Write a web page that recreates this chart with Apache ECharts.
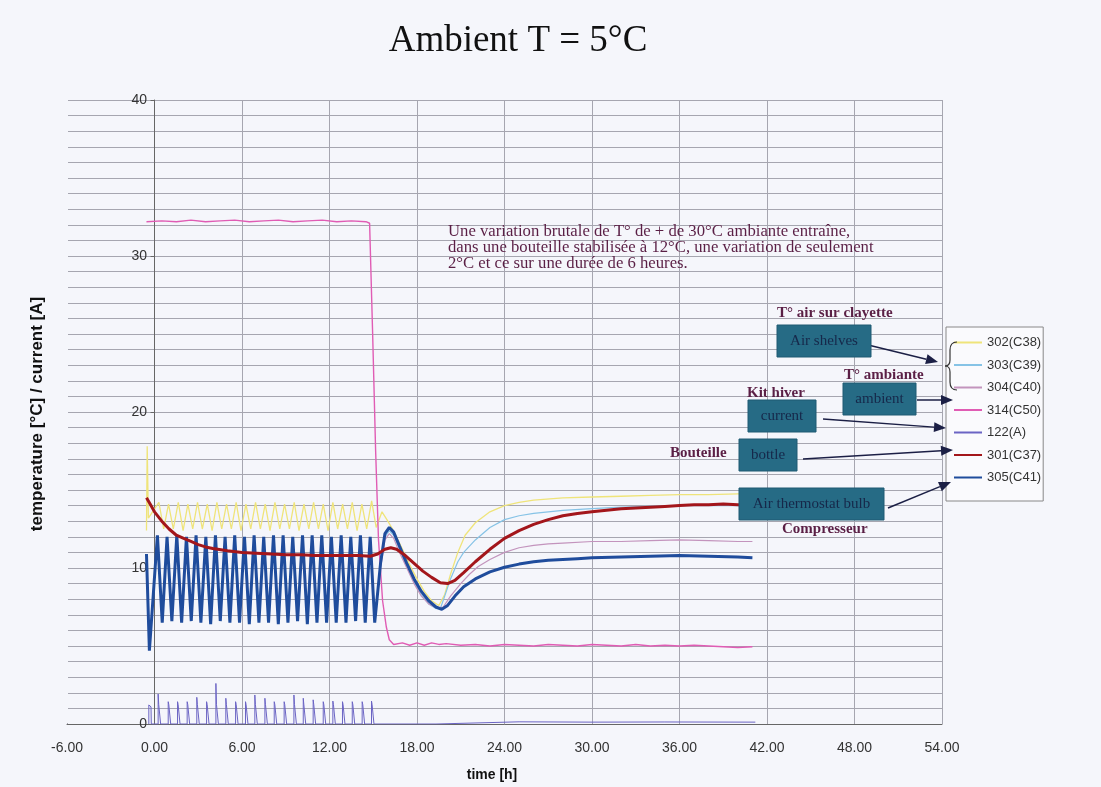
<!DOCTYPE html>
<html><head><meta charset="utf-8">
<script src="https://cdn.jsdelivr.net/npm/echarts/dist/echarts.min.js"></script>
<style>html,body{margin:0;padding:0;background:#f5f6fb}#c{width:1101px;height:787px}</style>
</head><body><div id="c"></div><script>
// ---- data (time [h], value) ----
const seriesNames = ['302(C38)','303(C39)','304(C40)','314(C50)','122(A)','301(C37)','305(C41)'];
const xTicks = [-6,0,6,12,18,24,30,36,42,48,54];
const yTicks = [0,10,20,30,40];

const s302 = [[-0.55,12.4],[-0.5,17.8],[-0.42,13.2],[0.3,14.2],[0.63,12.5],[0.96,14.1],[1.29,12.5],[1.63,14.2],[1.96,12.4],[2.29,14.1],[2.62,12.5],[2.95,14.2],[3.28,12.5],[3.62,14.1],[3.95,12.4],[4.28,14.2],[4.61,12.5],[4.94,14.1],[5.27,12.5],[5.60,14.2],[5.93,12.4],[6.27,14.1],[6.60,12.5],[6.93,14.2],[7.26,12.5],[7.59,14.1],[7.92,12.4],[8.26,14.2],[8.59,12.5],[8.92,14.1],[9.25,12.5],[9.58,14.2],[9.91,12.4],[10.25,14.1],[10.58,12.5],[10.91,14.2],[11.24,12.5],[11.57,14.1],[11.90,12.4],[12.23,14.2],[12.56,12.5],[12.90,14.1],[13.23,12.5],[13.56,14.2],[13.89,12.4],[14.22,14.1],[14.55,12.5],[14.89,14.3],[15.2,12.6],[15.6,13.6],[16.0,13.0],[16.5,12.2],[17,11.2],[17.5,10.2],[18,9.3],[18.5,8.5],[19,7.9],[19.5,7.6],[19.9,8.3],[20.3,9.6],[20.8,11.0],[21.3,12.1],[22,12.9],[23,13.6],[24,14.0],[25,14.2],[26,14.35],[28,14.5],[30,14.55],[32,14.6],[34,14.65],[36,14.7],[38,14.7],[40,14.75],[41,14.75]];

const s303 = [[15.1,6.6],[15.5,10.2],[15.8,12.0],[16.1,12.4],[16.4,12.1],[16.8,11.2],[17.3,10.1],[17.8,9.1],[18.3,8.3],[18.8,7.7],[19.3,7.4],[19.6,7.4],[19.9,8.2],[20.3,9.3],[20.8,10.4],[21.2,11.0],[22,11.8],[23,12.6],[24,13.1],[25,13.35],[26,13.5],[27,13.6],[28,13.7],[30,13.8],[32,13.9],[34,13.95],[36,14.0],[38,14.0],[40,14.0],[41,14.0]];

const s304 = [[15.1,6.6],[15.5,10.0],[15.8,11.8],[16.1,12.2],[16.4,11.9],[16.8,11.0],[17.3,10.0],[17.8,9.0],[18.3,8.2],[18.8,7.7],[19.3,7.45],[19.8,7.5],[20.3,8.2],[21,9.0],[21.6,9.6],[22.2,10.1],[23,10.55],[24,11.0],[25,11.3],[26,11.45],[27,11.55],[28,11.6],[30,11.7],[32,11.7],[34,11.75],[36,11.8],[38,11.75],[40,11.7],[41,11.7]];

const s314 = [[-0.55,32.2],[0.5,32.25],[1.5,32.2],[2.5,32.3],[3.5,32.2],[4.5,32.25],[5.5,32.3],[6.5,32.2],[7.5,32.25],[8.5,32.3],[9.5,32.2],[10.5,32.25],[11.5,32.3],[12.5,32.2],[13.5,32.25],[14.5,32.2],[14.75,32.1],[14.95,25.3],[15.16,17.6],[15.36,11.8],[15.64,7.9],[15.9,6.2],[16.1,5.4],[16.4,5.1],[17,5.2],[17.5,5.05],[18,5.2],[18.5,5.05],[19,5.2],[19.5,5.1],[20,5.15],[21,5.05],[22,5.1],[23,5.0],[24,5.1],[25,5.05],[26,5.0],[27,5.1],[28,5.05],[29,5.0],[30,5.1],[31,5.05],[32,5.0],[33,5.1],[34,5.0],[35,5.05],[36,5.0],[37,5.05],[38,5.0],[39,4.95],[40,4.9],[41,4.95]];

const s122 = [[-0.39,0],[-0.39,1.22],[-0.35,1.15],[-0.24,1.1],[-0.22,0],
[0.25,0],[0.25,1.92],[0.29,1.25],[0.40,1.2],[0.42,0],
[0.94,0],[0.94,1.43],[0.98,1.25],[1.09,1.2],[1.11,0],
[1.58,0],[1.58,1.43],[1.62,1.25],[1.73,1.2],[1.75,0],
[2.24,0],[2.24,1.43],[2.28,1.25],[2.39,1.2],[2.41,0],
[2.90,0],[2.90,1.71],[2.94,1.25],[3.05,1.2],[3.07,0],
[3.57,0],[3.57,1.43],[3.61,1.25],[3.72,1.2],[3.74,0],
[4.21,0],[4.21,2.6],[4.25,1.25],[4.36,1.2],[4.38,0],
[4.89,0],[4.89,1.65],[4.93,1.25],[5.04,1.2],[5.06,0],
[5.56,0],[5.56,1.43],[5.60,1.25],[5.71,1.2],[5.73,0],
[6.24,0],[6.24,1.43],[6.28,1.25],[6.39,1.2],[6.41,0],
[6.88,0],[6.88,1.86],[6.92,1.25],[7.03,1.2],[7.05,0],
[7.57,0],[7.57,1.65],[7.61,1.25],[7.72,1.2],[7.74,0],
[8.21,0],[8.21,1.43],[8.25,1.25],[8.36,1.2],[8.38,0],
[8.89,0],[8.89,1.43],[8.93,1.25],[9.04,1.2],[9.06,0],
[9.56,0],[9.56,1.86],[9.60,1.25],[9.71,1.2],[9.73,0],
[10.20,0],[10.20,1.65],[10.24,1.25],[10.35,1.2],[10.37,0],
[10.88,0],[10.88,1.55],[10.92,1.25],[11.03,1.2],[11.05,0],
[11.57,0],[11.57,1.43],[11.61,1.25],[11.72,1.2],[11.74,0],
[12.23,0],[12.23,1.47],[12.27,1.25],[12.38,1.2],[12.40,0],
[12.89,0],[12.89,1.43],[12.93,1.25],[13.04,1.2],[13.06,0],
[13.56,0],[13.56,1.43],[13.60,1.25],[13.71,1.2],[13.73,0],
[14.24,0],[14.24,1.43],[14.28,1.25],[14.39,1.2],[14.41,0],
[14.88,0],[14.88,1.47],[14.92,1.25],[15.03,1.2],[15.05,0],
[19.3,0],[19.3,0.12],[25,0.14],[30,0.12],[35,0.13],[41.2,0.12]];

const s301 = [[-0.55,14.5],[-0.3,14.1],[0,13.6],[0.5,13.0],[1,12.5],[1.5,12.1],[2,11.9],[2.5,11.7],[3,11.5],[3.5,11.35],[4,11.25],[5,11.1],[6,11.0],[7,10.95],[8,10.9],[9,10.85],[10,10.85],[11,10.8],[12,10.8],[13,10.8],[14,10.8],[14.8,10.75],[15.3,10.9],[15.8,11.2],[16.2,11.3],[16.6,11.2],[17.2,10.8],[17.8,10.3],[18.4,9.8],[19,9.4],[19.6,9.05],[20.1,9.0],[20.6,9.2],[21.2,9.7],[22,10.4],[23,11.2],[24,11.9],[25,12.4],[26,12.8],[27,13.1],[28,13.35],[29,13.5],[30,13.6],[31,13.7],[32,13.8],[33,13.85],[34,13.9],[35,13.95],[36,14.0],[37,14.05],[38,14.05],[39,14.1],[40,14.05],[41,14.0]];

const s305 = [[-0.55,10.9],[-0.35,4.7],[0.2,12.1],[0.53,6.5],[0.86,12.0],[1.19,6.6],[1.53,12.1],[1.86,6.5],[2.19,12.0],[2.52,6.6],[2.85,12.1],[3.18,6.5],[3.52,12.0],[3.85,6.4],[4.18,12.1],[4.51,6.6],[4.84,12.0],[5.17,6.5],[5.50,12.1],[5.83,6.5],[6.17,12.0],[6.50,6.4],[6.83,12.1],[7.16,6.5],[7.49,12.0],[7.82,6.5],[8.16,12.1],[8.49,6.4],[8.82,12.1],[9.15,6.5],[9.48,12.0],[9.81,6.6],[10.15,12.1],[10.48,6.4],[10.81,12.1],[11.14,6.5],[11.47,12.1],[11.80,6.5],[12.13,12.0],[12.46,6.5],[12.80,12.1],[13.13,6.5],[13.46,12.0],[13.79,6.6],[14.12,12.1],[14.45,6.5],[14.79,12.0],[15.10,6.5],[15.5,10.3],[15.8,12.2],[16.1,12.6],[16.4,12.3],[16.8,11.4],[17.3,10.3],[17.8,9.3],[18.3,8.5],[18.8,7.9],[19.3,7.5],[19.7,7.35],[20.1,7.6],[20.6,8.2],[21.2,8.8],[22,9.3],[23,9.75],[24,10.05],[25,10.25],[26,10.4],[27,10.5],[28,10.55],[29,10.6],[30,10.65],[32,10.7],[34,10.75],[36,10.8],[38,10.75],[40,10.7],[41,10.65]];

// ---- styles ----
const colors = {'302(C38)':'#efe47a','303(C39)':'#86c3e6','304(C40)':'#c394bd','314(C50)':'#e05cb4','122(A)':'#6b64c4','301(C37)':'#a3161b','305(C41)':'#1f4c9c'};
const widths = {'302(C38)':1.3,'303(C39)':1.2,'304(C40)':1.2,'314(C50)':1.4,'122(A)':1,'301(C37)':3,'305(C41)':3};
const dataMap = {'302(C38)':s302,'303(C39)':s303,'304(C40)':s304,'314(C50)':s314,'122(A)':s122,'301(C37)':s301,'305(C41)':s305};
const zMap = {'302(C38)':2,'303(C39)':3,'304(C40)':4,'314(C50)':5,'122(A)':6,'301(C37)':8,'305(C41)':7};

const series = seriesNames.map(n => ({
  name:n, type:'line', data:dataMap[n], showSymbol:false, symbol:'none',
  lineStyle:{color:colors[n], width:widths[n]}, itemStyle:{color:colors[n]},
  z:zMap[n], animation:false
}));

const ink = '#1b1f45';
function arrow(x1,y1,x2,y2){
  const dx=x2-x1, dy=y2-y1, L=Math.hypot(dx,dy), ux=dx/L, uy=dy/L;
  const hl=12, hw=5, bx=x2-ux*hl, by=y2-uy*hl;
  return [
    {type:'line', z:100, shape:{x1:x1,y1:y1,x2:bx,y2:by}, style:{stroke:ink, lineWidth:1.5}},
    {type:'polygon', z:100, shape:{points:[[x2,y2],[bx-uy*hw,by+ux*hw],[bx+uy*hw,by-ux*hw]]}, style:{fill:ink}}
  ];
}
function box(x1,y1,x2,y2,label){
  return [
    {type:'rect', z:100, shape:{x:x1,y:y1,width:x2-x1,height:y2-y1}, style:{fill:'#266b85', stroke:'#1e5a72', lineWidth:1}},
    {type:'text', z:101, x:(x1+x2)/2, y:(y1+y2)/2, style:{text:label, fill:'#16284a', font:'15px "Liberation Serif", serif', textAlign:'center', textVerticalAlign:'middle'}}
  ];
}
const lab = (x,y,t)=>({type:'text', z:101, x:x, y:y, style:{text:t, fill:'#5a1f45', font:'bold 15px "Liberation Serif", serif', textAlign:'left', textVerticalAlign:'middle'}});
const braceStyle = {stroke:'#333', lineWidth:1.2, fill:null};
const brace = [
  {type:'bezierCurve', z:100, shape:{x1:957,y1:342,cpx1:950,cpy1:342,x2:950,y2:350}, style:braceStyle},
  {type:'line', z:100, shape:{x1:950,y1:350,x2:950,y2:360}, style:braceStyle},
  {type:'bezierCurve', z:100, shape:{x1:950,y1:360,cpx1:950,cpy1:366,x2:945,y2:366}, style:braceStyle},
  {type:'bezierCurve', z:100, shape:{x1:945,y1:366,cpx1:950,cpy1:366,x2:950,y2:372}, style:braceStyle},
  {type:'line', z:100, shape:{x1:950,y1:372,x2:950,y2:382}, style:braceStyle},
  {type:'bezierCurve', z:100, shape:{x1:950,y1:382,cpx1:950,cpy1:390,x2:957,y2:390}, style:braceStyle}
];

const graphic = [
  {type:'rect', z:1, shape:{x:66,y:99,width:2,height:624}, style:{fill:'#f5f6fb'}},
  {type:'text', z:101, x:518, y:41, style:{text:'Ambient T = 5°C', fill:'#111', font:'37px "Liberation Serif", serif', textAlign:'center', textVerticalAlign:'middle'}},
  {type:'text', z:101, x:37, y:414, rotation:Math.PI/2, style:{text:'temperature [°C] / current [A]', fill:'#111', font:'bold 17px "Liberation Sans", Arial, sans-serif', textAlign:'center', textVerticalAlign:'middle'}},
  {type:'text', z:101, x:492, y:775, style:{text:'time [h]', fill:'#111', font:'bold 14px "Liberation Sans", Arial, sans-serif', textAlign:'center', textVerticalAlign:'middle'}},
  {type:'text', z:101, x:448, y:224, style:{text:'Une variation brutale de T° de + de 30°C ambiante entraîne,\ndans une bouteille stabilisée à 12°C, une variation de seulement\n2°C et ce sur une durée de 6 heures.', fill:'#5a1f45', font:'16.7px "Liberation Serif", serif', lineHeight:16, textAlign:'left', textVerticalAlign:'top'}},
  lab(777,313,'T° air sur clayette'),
  lab(844,375,'T° ambiante'),
  lab(747,393,'Kit hiver'),
  lab(670,453,'Bouteille'),
  lab(782,529,'Compresseur'),
  ...arrow(860,343,938,362),
  ...arrow(917,400,953,400),
  ...arrow(823,419,946,428),
  ...arrow(803,459,953,450),
  ...arrow(888,508,951,482),
  ...box(777,325,871,357,'Air shelves'),
  ...box(843,383,916,415,'ambient'),
  ...box(748,400,816,432,'current'),
  ...box(739,439,797,471,'bottle'),
  ...box(739,488,884,520,'Air thermostat bulb'),
  ...brace
];

const chart = echarts.init(document.getElementById('c'), null, {renderer:'canvas'});
chart.setOption({
  backgroundColor:'#f5f6fb',
  animation:false,
  grid:{left:67, right:159, top:100, bottom:63, containLabel:false},
  xAxis:{type:'value', min:xTicks[0], max:xTicks[xTicks.length-1], interval:6,
    axisLine:{show:true, lineStyle:{color:'#666'}}, axisTick:{show:false},
    axisLabel:{formatter:v=>v.toFixed(2), fontSize:14, color:'#333', margin:17, fontFamily:'"Liberation Sans", Arial, sans-serif'},
    splitLine:{show:true, lineStyle:{color:'#a6a6b0', width:1}}},
  yAxis:{type:'value', min:yTicks[0], max:yTicks[yTicks.length-1], interval:10,
    axisLine:{show:true, onZero:true, lineStyle:{color:'#666'}}, axisTick:{show:true, length:4, lineStyle:{color:'#666'}},
    axisLabel:{fontSize:14, color:'#333', margin:-80, fontFamily:'"Liberation Sans", Arial, sans-serif'},
    splitLine:{show:true, lineStyle:{color:'#a6a6b0', width:1}},
    minorTick:{show:false, splitNumber:10},
    minorSplitLine:{show:true, lineStyle:{color:'#a6a6b0', width:1}}},
  legend:{data:seriesNames, orient:'vertical', left:946, top:327, padding:[9,2,17,7], itemGap:9.5, itemWidth:28, itemHeight:14,
    itemStyle:{opacity:0},
    backgroundColor:'#fafafd', borderColor:'#888', borderWidth:1,
    textStyle:{fontSize:13, color:'#333', fontFamily:'"Liberation Sans", Arial, sans-serif'}},
  series:series,
  graphic:graphic
});
</script></body></html>
